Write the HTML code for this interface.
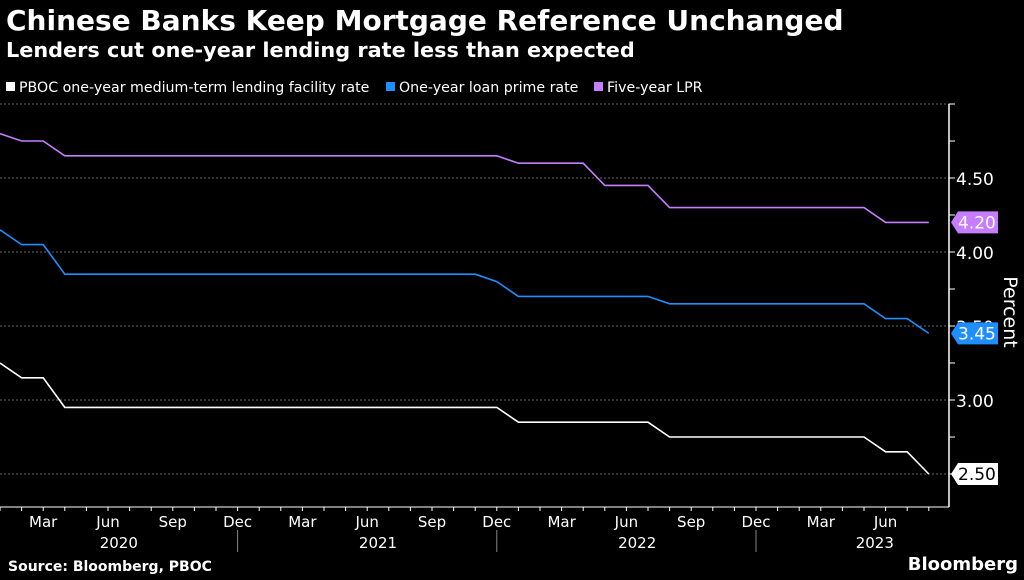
<!DOCTYPE html>
<html><head><meta charset="utf-8"><style>
body{margin:0;background:#000;width:1024px;height:576px;overflow:hidden;font-family:"DejaVu Sans","Liberation Sans",sans-serif;color:#fff}
svg text{font-family:"DejaVu Sans","Liberation Sans",sans-serif}
</style></head><body>
<svg width="1024" height="576" xmlns="http://www.w3.org/2000/svg">
<text x="6" y="30" font-size="28" font-weight="bold" fill="#fff">Chinese Banks Keep Mortgage Reference Unchanged</text>
<text x="6" y="57" font-size="20.8" font-weight="bold" fill="#fff">Lenders cut one-year lending rate less than expected</text>
<g font-size="14.2" fill="#fff">
<rect x="6" y="82" width="9" height="9" fill="#fff"/><text x="19" y="92">PBOC one-year medium-term lending facility rate</text>
<rect x="386" y="82" width="9" height="9" fill="#1f8fff"/><text x="399" y="92">One-year loan prime rate</text>
<rect x="594" y="82" width="9" height="9" fill="#c77dff"/><text x="607" y="92">Five-year LPR</text>
</g>
<g id="grid"></g><g id="axes"></g><g id="series"></g>
<text x="1010" y="306" font-size="19" fill="#fff" transform="rotate(90 1004 306)" text-anchor="middle">Percent</text>
<text x="8" y="571" font-size="14" font-weight="bold" fill="#fff">Source: Bloomberg, PBOC</text>
<text x="1018" y="570" font-size="18" font-weight="bold" fill="#fff" text-anchor="end">Bloomberg</text>
</svg>
<script>
const mlf=[3.25,3.15,3.15,2.95,2.95,2.95,2.95,2.95,2.95,2.95,2.95,2.95,2.95,2.95,2.95,2.95,2.95,2.95,2.95,2.95,2.95,2.95,2.95,2.95,2.85,2.85,2.85,2.85,2.85,2.85,2.85,2.75,2.75,2.75,2.75,2.75,2.75,2.75,2.75,2.75,2.75,2.65,2.65,2.50];
const lpr1=[4.15,4.05,4.05,3.85,3.85,3.85,3.85,3.85,3.85,3.85,3.85,3.85,3.85,3.85,3.85,3.85,3.85,3.85,3.85,3.85,3.85,3.85,3.85,3.80,3.70,3.70,3.70,3.70,3.70,3.70,3.70,3.65,3.65,3.65,3.65,3.65,3.65,3.65,3.65,3.65,3.65,3.55,3.55,3.45];
const lpr5=[4.80,4.75,4.75,4.65,4.65,4.65,4.65,4.65,4.65,4.65,4.65,4.65,4.65,4.65,4.65,4.65,4.65,4.65,4.65,4.65,4.65,4.65,4.65,4.65,4.60,4.60,4.60,4.60,4.45,4.45,4.45,4.30,4.30,4.30,4.30,4.30,4.30,4.30,4.30,4.30,4.30,4.20,4.20,4.20];
const yTicks=[2.5,3.0,3.5,4.0,4.5,5.0];
const yLabels=["2.50","3.00","3.50","4.00","4.50",""];
const monthLabels=["Mar","Jun","Sep","Dec","Mar","Jun","Sep","Dec","Mar","Jun","Sep","Dec","Mar","Jun"];
const monthIdx=[2,5,8,11,14,17,20,23,26,29,32,35,38,41];
const years=["2020","2021","2022","2023"];
const yearIdx=[5.5,17.5,29.5,40.5];
const NS="http://www.w3.org/2000/svg";
const X=i=>i*21.6, Y=v=>400-(v-3)*148;
function mk(p,t,a){const e=document.createElementNS(NS,t);for(const k in a)e.setAttribute(k,a[k]);p.appendChild(e);return e;}
const G=document.getElementById('grid'),S=document.getElementById('series'),A=document.getElementById('axes');
yTicks.forEach((v,i)=>{const l=mk(G,'line',{x1:0,x2:949,y1:Y(v),y2:Y(v),stroke:'#666','stroke-dasharray':'2,2','stroke-width':1});


if(yLabels[i]){const t=mk(A,'text',{x:956,y:Y(v)+7,'font-size':17,fill:'#fff'});t.textContent=yLabels[i];

}});
for(let v=2.5;v<=5.0;v+=0.25){mk(A,'line',{x1:949,x2:955,y1:Y(v),y2:Y(v),stroke:'#fff'});}
mk(A,'line',{x1:949,x2:949,y1:Y(5),y2:507,stroke:'#fff','stroke-width':1.5});
mk(A,'line',{x1:0,x2:949,y1:507,y2:507,stroke:'#fff','stroke-width':1});
for(let i=0;i<44;i++){mk(A,'line',{x1:X(i),x2:X(i),y1:507,y2:511,stroke:'#fff'});}
monthLabels.forEach((m,i)=>{const t=mk(A,'text',{x:X(monthIdx[i]),y:527,'font-size':15,fill:'#fff','text-anchor':'middle'});t.textContent=m;

});
years.forEach((y,i)=>{const t=mk(A,'text',{x:X(yearIdx[i]),y:548,'font-size':15,fill:'#fff','text-anchor':'middle'});t.textContent=y;

});
[11,23,35].forEach(i=>mk(A,'line',{x1:X(i),x2:X(i),y1:530,y2:552,stroke:'#888'}));
function series(d,c,name){const p=mk(S,'polyline',{points:d.map((v,i)=>X(i)+','+Y(v)).join(' '),fill:'none',stroke:c,'stroke-width':1.6});


const v=d[d.length-1],y=Y(v);
const b=mk(S,'polygon',{points:`951,${y} 958,${y-11} 998,${y-11} 998,${y+11} 958,${y+11}`,fill:c});


const t=mk(S,'text',{x:958,y:y+6,'font-size':17,fill:c=='#fff'?'#000':'#fff'});t.textContent=v.toFixed(2);}
series(mlf,'#fff','mlf-line');series(lpr1,'#1f8fff','lpr1-line');series(lpr5,'#c77dff','lpr5-line');
</script>
</body></html>
